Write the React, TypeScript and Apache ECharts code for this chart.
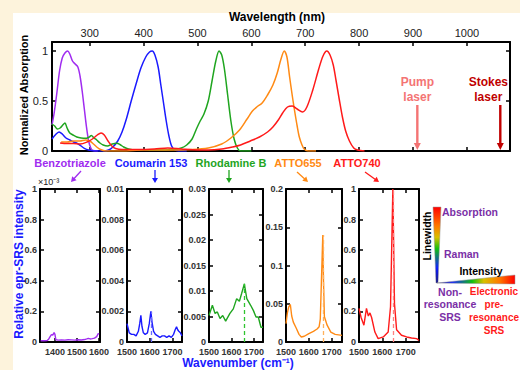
import React, { useEffect, useRef } from "react";
import * as echarts from "echarts";

const FONT = "'Liberation Sans', Arial, Helvetica, sans-serif";

// ---------- Top chart: absorption spectra (wavelength nm, normalized absorption) ----------
const wavelengthTicks = [300, 400, 500, 600, 700, 800, 900, 1000];
const absorptionTicks = [0, 0.5, 1];

const benzotriazoleAbs = [
  [230, 0.26], [234, 0.38], [239, 0.58], [244, 0.8], [249, 0.93], [254, 0.98], [259, 1.0], [263, 0.97],
  [268, 0.9], [273, 0.87], [278, 0.84], [282, 0.75], [286, 0.6], [290, 0.42], [294, 0.24], [298, 0.1],
  [302, 0.03], [306, 0.005], [315, 0],
];
const coumarinAbs = [
  [230, 0.12], [236, 0.16], [243, 0.19], [249, 0.17], [256, 0.13], [263, 0.11], [270, 0.09], [277, 0.077],
  [284, 0.05], [290, 0.027], [298, 0.01], [308, 0.0], [325, 0.0], [335, 0.01], [343, 0.04], [352, 0.1],
  [360, 0.19], [368, 0.32], [377, 0.5], [386, 0.67], [395, 0.83], [404, 0.94], [411, 0.99], [416, 1.0],
  [421, 0.96], [427, 0.84], [432, 0.66], [437, 0.48], [442, 0.3], [447, 0.15], [452, 0.05], [458, 0.01],
  [465, 0], [480, 0],
];
const rhodamineAbs = [
  [230, 0.27], [235, 0.25], [240, 0.22], [245, 0.23], [250, 0.26], [254, 0.28], [258, 0.23], [263, 0.18],
  [269, 0.16], [276, 0.14], [284, 0.13], [294, 0.127], [299, 0.14], [303, 0.155], [308, 0.13], [313, 0.11],
  [319, 0.08], [325, 0.06], [333, 0.05], [342, 0.07], [350, 0.077], [356, 0.065], [363, 0.04], [372, 0.02],
  [385, 0.01], [420, 0.01], [455, 0.015], [470, 0.03], [480, 0.06], [490, 0.12], [498, 0.22], [505, 0.3],
  [512, 0.37], [520, 0.5], [527, 0.7], [534, 0.9], [540, 1.0], [545, 0.96], [550, 0.82], [556, 0.56],
  [562, 0.3], [568, 0.12], [574, 0.03], [580, 0.0], [600, 0],
];
const atto655Abs = [
  [247, 0.09], [258, 0.09], [270, 0.1], [282, 0.1], [292, 0.11], [300, 0.1], [307, 0.07], [313, 0.04],
  [320, 0.015], [330, 0.0], [360, 0.0], [400, 0.01], [450, 0.01], [490, 0.015], [520, 0.03], [545, 0.07],
  [562, 0.13], [578, 0.21], [592, 0.32], [602, 0.4], [610, 0.44], [620, 0.48], [630, 0.56], [640, 0.66],
  [648, 0.78], [655, 0.92], [661, 1.0], [666, 0.94], [671, 0.74], [676, 0.55], [680, 0.41], [685, 0.25],
  [689, 0.14], [694, 0.06], [698, 0.02], [705, 0.0], [720, 0],
];
const atto740Abs = [
  [245, 0.08], [258, 0.075], [270, 0.075], [282, 0.07], [295, 0.09], [305, 0.12], [314, 0.16], [321, 0.18],
  [327, 0.16], [334, 0.1], [341, 0.05], [348, 0.025], [360, 0.015], [390, 0.015], [420, 0.02], [445, 0.03],
  [470, 0.02], [500, 0.01], [520, 0.01], [545, 0.02], [565, 0.04], [580, 0.06], [598, 0.1], [615, 0.14],
  [630, 0.19], [640, 0.24], [650, 0.31], [658, 0.38], [667, 0.44], [676, 0.45], [685, 0.42], [695, 0.39],
  [703, 0.44], [714, 0.61], [725, 0.82], [733, 0.95], [740, 1.0], [746, 0.96], [752, 0.86], [757, 0.71],
  [763, 0.52], [769, 0.34], [775, 0.2], [782, 0.1], [790, 0.03], [797, 0.01], [810, 0],
];

const laserNames = ["Pump\nlaser", "Stokes\nlaser"];
const laserWavelengths = [908, 1062];

// ---------- Bottom panels: epr-SRS spectra (wavenumber cm-1, relative intensity) ----------
const compoundNames = ["Benzotriazole", "Coumarin 153", "Rhodamine B", "ATTO655", "ATTO740"];

// Benzotriazole values in units of 1e-3
const benzotriazoleSRS = [
  [1335, 0.008], [1350, 0.008], [1365, 0.01], [1372, 0.02], [1378, 0.035], [1384, 0.048], [1390, 0.045],
  [1396, 0.062], [1400, 0.05], [1404, 0.015], [1415, 0.012], [1430, 0.014], [1445, 0.012], [1460, 0.015],
  [1475, 0.014], [1490, 0.012], [1505, 0.015], [1520, 0.013], [1535, 0.016], [1545, 0.02], [1552, 0.024],
  [1560, 0.02], [1570, 0.022], [1580, 0.025], [1590, 0.035], [1597, 0.056], [1600, 0.05],
];
const coumarinSRS = [
  [1500, 0.0012], [1505, 0.0009], [1510, 0.0006], [1520, 0.0005], [1530, 0.0005], [1540, 0.0004],
  [1550, 0.0007], [1556, 0.0012], [1561, 0.00175], [1566, 0.001], [1572, 0.0006], [1580, 0.0005],
  [1590, 0.0006], [1598, 0.0012], [1605, 0.002], [1610, 0.0013], [1617, 0.0007], [1625, 0.0005],
  [1635, 0.0004], [1645, 0.0003], [1655, 0.0004], [1665, 0.0004], [1675, 0.0003], [1685, 0.0004],
  [1695, 0.0003], [1705, 0.0005], [1712, 0.0008], [1718, 0.001], [1723, 0.0008], [1728, 0.0007],
  [1735, 0.0006], [1742, 0.0004],
];
const rhodamineSRS = [
  [1500, 0.0052], [1515, 0.0072], [1527, 0.0056], [1537, 0.0059], [1549, 0.0046], [1561, 0.0052],
  [1574, 0.0041], [1593, 0.0056], [1608, 0.0065], [1623, 0.0085], [1635, 0.008], [1645, 0.0095],
  [1657, 0.0114], [1668, 0.0085], [1685, 0.0072], [1697, 0.0062], [1709, 0.0049], [1719, 0.0049],
  [1731, 0.0029], [1740, 0.0029],
];
const atto655SRS = [
  [1500, 0.024], [1506, 0.038], [1512, 0.046], [1519, 0.049], [1525, 0.034], [1532, 0.026], [1545, 0.018],
  [1557, 0.01], [1567, 0.0065], [1580, 0.0075], [1600, 0.011], [1620, 0.014], [1636, 0.017], [1645, 0.02],
  [1650, 0.03], [1655, 0.08], [1661, 0.14], [1664, 0.08], [1668, 0.033], [1680, 0.022], [1696, 0.013],
  [1715, 0.01], [1745, 0.0087],
];
const atto740SRS = [
  [1500, 0.22], [1509, 0.16], [1521, 0.11], [1532, 0.22], [1540, 0.17], [1547, 0.19], [1554, 0.16],
  [1568, 0.065], [1582, 0.022], [1604, 0.033], [1625, 0.065], [1635, 0.23], [1645, 1.0], [1652, 0.25],
  [1661, 0.08], [1682, 0.044], [1704, 0.033], [1725, 0.026], [1747, 0.022], [1757, 0.01],
];

const benzotriazoleXTicks = [1400, 1500, 1600];
const wavenumberTicks = [1500, 1600, 1700];
const benzotriazoleYTicks = [0, 0.2, 0.4, 0.6, 0.8, 1];
const coumarinYTicks = [0, 0.002, 0.004, 0.006, 0.008, 0.01];
const rhodamineYTicks = [0, 0.005, 0.01, 0.015, 0.02, 0.025, 0.03];
const atto655YTicks = [0, 0.05, 0.1, 0.15, 0.2];
const atto740YTicks = [0, 0.2, 0.4, 0.6, 0.8, 1];
const peakWavenumbers = [null, 1605, 1657, 1661, 1645];

// ---------- styling ----------
const COLORS = ["#a02cf0", "#1a1aff", "#1fa51f", "#ff8a14", "#ff1a1a"];
const DASH_COLORS = ["#a02cf0", "#6b6bff", "#2fc42f", "#ffb15c", "#ff8080"];
const PURPLE_TXT = "#7a2fa6";

const topGrid = { left: 52, top: 42, width: 458, height: 109 };
const panelTop = 189;
const panelHeight = 153;
const panelGrids = [
  { left: 40, width: 60, xMin: 1332, xMax: 1605 },
  { left: 127, width: 55, xMin: 1500, xMax: 1742 },
  { left: 209, width: 54, xMin: 1500, xMax: 1740 },
  { left: 286, width: 56, xMin: 1500, xMax: 1745 },
  { left: 359, width: 60, xMin: 1500, xMax: 1757 },
];

function axis(
  gridIndex: number,
  min: number,
  max: number,
  ticks: number[],
  position: string,
  showLabel: boolean,
  label: any
) {
  return {
    type: "value",
    gridIndex,
    min,
    max,
    position,
    axisLine: { show: true, onZero: false, lineStyle: { color: "#000", width: 2 } },
    axisTick: {
      show: true,
      inside: true,
      length: 4,
      customValues: ticks,
      lineStyle: { color: "#000", width: 1.5 },
    },
    axisLabel: {
      show: showLabel,
      customValues: ticks,
      fontFamily: FONT,
      formatter: (v: number) => String(v),
      ...label,
    },
    splitLine: { show: false },
  };
}

function txt(text: string, x: number, y: number, o: any = {}) {
  return {
    type: "text",
    x,
    y,
    rotation: o.rotation || 0,
    silent: true,
    style: {
      text,
      x: 0,
      y: 0,
      fill: o.color || "#000",
      fontFamily: FONT,
      fontSize: o.size || 11,
      fontWeight: o.weight || "bold",
      textAlign: o.align || "center",
      textVerticalAlign: "middle",
      lineHeight: o.lineHeight,
    },
  };
}

function arrow(x1: number, y1: number, x2: number, y2: number, color: string, w: number, head: number, half: number) {
  const dx = x2 - x1;
  const dy = y2 - y1;
  const len = Math.hypot(dx, dy);
  const ux = dx / len;
  const uy = dy / len;
  const bx = x2 - ux * head;
  const by = y2 - uy * head;
  return [
    { type: "line", silent: true, shape: { x1, y1, x2: bx + ux, y2: by + uy }, style: { stroke: color, lineWidth: w } },
    {
      type: "polygon",
      silent: true,
      shape: { points: [[x2, y2], [bx - uy * half, by + ux * half], [bx + uy * half, by - ux * half]] },
      style: { fill: color },
    },
  ];
}

function buildOption() {
  const grids: any[] = [{ ...topGrid }];
  const xAxes: any[] = [
    axis(0, 230, 1080, wavelengthTicks, "top", true, { fontSize: 11, color: "#222", margin: 4 }),
    axis(0, 230, 1080, wavelengthTicks, "bottom", false, {}),
  ];
  const yAxes: any[] = [
    axis(0, 0, 1.09, absorptionTicks, "left", true, { fontSize: 11, color: "#222", margin: 4 }),
    axis(0, 0, 1.09, absorptionTicks, "right", false, {}),
  ];
  const series: any[] = [];
  const absData = [benzotriazoleAbs, coumarinAbs, rhodamineAbs, atto655Abs, atto740Abs];
  absData.forEach((d, i) => {
    series.push({
      type: "line",
      name: compoundNames[i],
      xAxisIndex: 0,
      yAxisIndex: 0,
      data: d,
      smooth: 0.3,
      showSymbol: false,
      silent: true,
      lineStyle: { color: COLORS[i], width: 1.5 },
    });
  });

  const srsData = [benzotriazoleSRS, coumarinSRS, rhodamineSRS, atto655SRS, atto740SRS];
  const yTicks = [benzotriazoleYTicks, coumarinYTicks, rhodamineYTicks, atto655YTicks, atto740YTicks];
  const lab = { fontSize: 9, fontWeight: "bold", color: "#333" };
  panelGrids.forEach((p, i) => {
    const gi = i + 1;
    grids.push({ left: p.left, width: p.width, top: panelTop, height: panelHeight });
    const xt = i === 0 ? benzotriazoleXTicks : wavenumberTicks;
    const yt = yTicks[i];
    const yMax = yt[yt.length - 1];
    xAxes.push(axis(gi, p.xMin, p.xMax, xt, "bottom", true, { ...lab, margin: 5 }));
    xAxes.push(axis(gi, p.xMin, p.xMax, xt, "top", false, {}));
    yAxes.push(axis(gi, 0, yMax, yt, "left", true, { ...lab, margin: 3 }));
    yAxes.push(axis(gi, 0, yMax, yt, "right", false, {}));
    const d = srsData[i];
    const peak = peakWavenumbers[i];
    let markLine: any = undefined;
    if (peak !== null) {
      const peakVal = Math.max(...d.map((pt) => pt[1]));
      markLine = {
        silent: true,
        symbol: ["none", "none"],
        label: { show: false },
        lineStyle: { type: [4, 3], color: DASH_COLORS[i], width: 1.3 },
        data: [[{ coord: [peak, 0] }, { coord: [peak, peakVal] }]],
      };
    }
    series.push({
      type: "line",
      name: compoundNames[i] + " SRS",
      xAxisIndex: 2 + 2 * i,
      yAxisIndex: 2 + 2 * i,
      data: d,
      showSymbol: false,
      silent: true,
      lineStyle: { color: COLORS[i], width: 1.4 },
      markLine,
    });
  });

  return {
    animation: false,
    backgroundColor: "transparent",
    grid: grids,
    xAxis: xAxes,
    yAxis: yAxes,
    series,
  };
}

function staticGraphics(): any[] {
  const g: any[] = [];
  g.push(txt("Wavelength (nm)", 277, 17, { size: 12 }));
  g.push(txt("Normalized Absorption", 24, 95, { size: 11, rotation: Math.PI / 2 }));
  const labelX = [70, 151, 231, 298, 357];
  compoundNames.forEach((n, i) => g.push(txt(n, labelX[i], 163, { size: 11, color: COLORS[i] })));
  // arrows pointing to panels
  g.push(...arrow(81, 171, 71, 182, COLORS[0], 1.3, 5, 3));
  g.push(...arrow(155, 170, 155, 183, COLORS[1], 1.3, 5, 3));
  g.push(...arrow(229, 170, 229, 183, COLORS[2], 1.3, 5, 3));
  g.push(...arrow(297, 172, 308, 182, COLORS[3], 1.3, 5, 3));
  g.push(...arrow(365, 172, 379, 182, COLORS[4], 1.3, 5, 3));
  // axis titles of bottom panels
  g.push(txt("×10⁻³", 38, 182, { size: 9, weight: "normal", align: "left", color: "#222" }));
  g.push(txt("Relative epr-SRS intensity", 19, 264, { size: 12, color: "#1a1aff", rotation: Math.PI / 2 }));
  g.push(txt("Wavenumber (cm⁻¹)", 238, 363, { size: 12, color: "#1a1aff" }));
  // legend schematic
  g.push({
    type: "polygon",
    silent: true,
    shape: { points: [[433, 207], [441, 207], [438, 283], [436, 283]] },
    style: {
      fill: new echarts.graphic.LinearGradient(0, 0, 0, 1, [
        { offset: 0, color: "#ff0000" },
        { offset: 0.25, color: "#ff7a00" },
        { offset: 0.4, color: "#d8c000" },
        { offset: 0.55, color: "#10c010" },
        { offset: 0.8, color: "#1020ff" },
        { offset: 1, color: "#000080" },
      ]),
      stroke: "#999",
      lineWidth: 0.5,
    },
  });
  g.push({
    type: "polygon",
    silent: true,
    shape: { points: [[437, 283], [515, 275], [515, 284]] },
    style: {
      fill: new echarts.graphic.LinearGradient(0, 0, 1, 0, [
        { offset: 0, color: "#000080" },
        { offset: 0.2, color: "#1020ff" },
        { offset: 0.45, color: "#10c010" },
        { offset: 0.6, color: "#d8c000" },
        { offset: 0.8, color: "#ff7a00" },
        { offset: 1, color: "#ff0000" },
      ]),
      stroke: "#999",
      lineWidth: 0.5,
    },
  });
  g.push(txt("Absorption", 442, 212, { size: 10.5, color: PURPLE_TXT, align: "left" }));
  g.push(txt("Raman", 444, 254, { size: 10.5, color: PURPLE_TXT, align: "left" }));
  g.push(txt("Linewidth", 427, 236, { size: 10.5, rotation: Math.PI / 2 }));
  g.push(txt("Intensity", 481, 271, { size: 10.5 }));
  g.push(txt("Non-\nresonance\nSRS", 450, 304, { size: 10.5, color: PURPLE_TXT, lineHeight: 12.5 }));
  g.push(txt("Electronic\npre-\nresonance\nSRS", 494, 311, { size: 10, color: "#ff1a1a", lineHeight: 12.7 }));
  return g;
}

export default function App() {
  const ref = useRef<HTMLDivElement>(null);
  useEffect(() => {
    if (!ref.current) return;
    const chart = echarts.init(ref.current, null, { renderer: "svg" });
    chart.setOption(buildOption());
    const laserColors = ["#f47474", "#c00000"];
    const laserTextOffset = [0, -12];
    const extra: any[] = [];
    laserWavelengths.forEach((wl, i) => {
      const top = chart.convertToPixel({ xAxisIndex: 0, yAxisIndex: 0 }, [wl, 0.46]) as number[];
      const bot = chart.convertToPixel({ xAxisIndex: 0, yAxisIndex: 0 }, [wl, 0.01]) as number[];
      extra.push(...arrow(top[0], top[1], bot[0], bot[1], laserColors[i], 2.4, 7, 3.5));
      const tp = chart.convertToPixel({ xAxisIndex: 0, yAxisIndex: 0 }, [wl, 0.615]) as number[];
      extra.push(txt(laserNames[i], tp[0] + laserTextOffset[i], tp[1], { size: 12, color: laserColors[i], lineHeight: 15 }));
    });
    chart.setOption({ graphic: [...staticGraphics(), ...extra] });
    return () => chart.dispose();
  }, []);
  return (
    <div style={{ position: "fixed", left: 0, top: 0, width: 520, height: 370, background: "#fdf3dc", overflow: "hidden" }}>
      <div style={{ position: "absolute", left: 13, top: 13, width: 507, height: 357, background: "#ffffff" }} />
      <div ref={ref} style={{ position: "absolute", left: 0, top: 0, width: 520, height: 370 }} />
    </div>
  );
}
